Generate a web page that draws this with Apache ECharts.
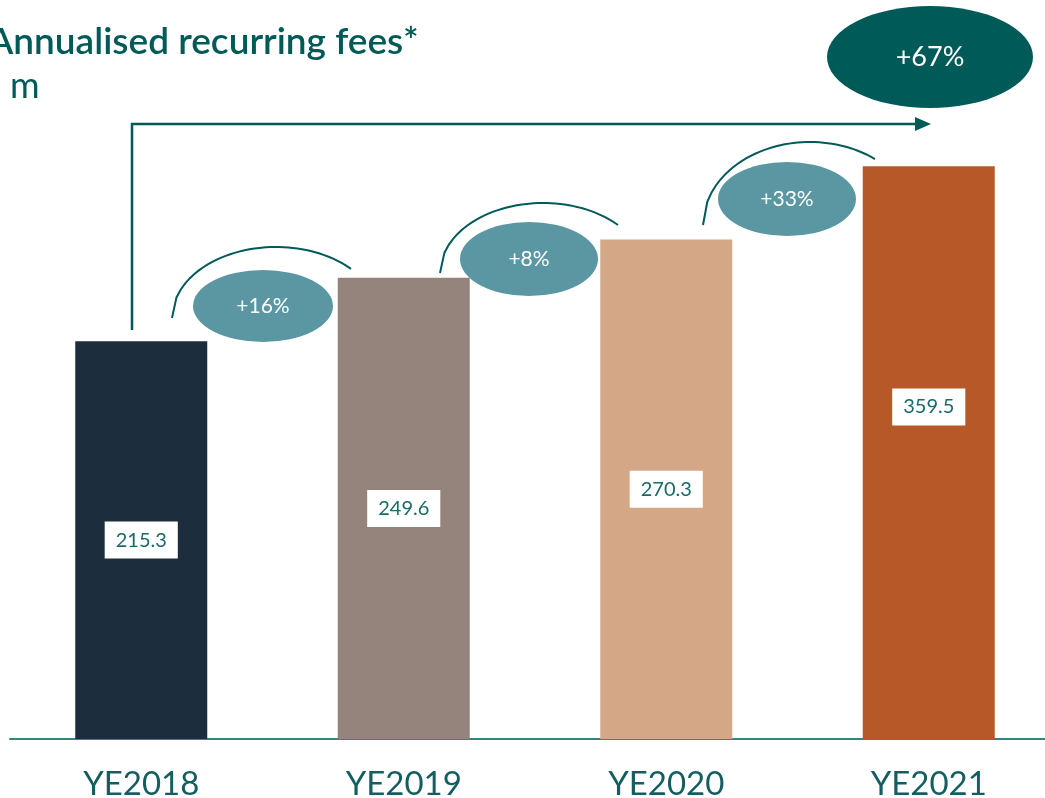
<!DOCTYPE html>
<html>
<head>
<meta charset="utf-8">
<script src="https://cdn.jsdelivr.net/npm/echarts@6/dist/echarts.min.js"></script>
<style>
  html, body { margin: 0; padding: 0; background: #fff; }
  #chart { width: 1045px; height: 798px; }
</style>
</head>
<body>
<div id="chart"></div>
<script>
const categories = ['YE2018', 'YE2019', 'YE2020', 'YE2021']
const feeValues = [215.3, 249.6, 270.3, 359.5]
// the last bar is drawn shorter than its value in the source slide
const barHeights = [215.3, 249.6, 270.3, 310]
const barColors = ['#1c2e3d', '#94847b', '#d4a887', '#b65827']
const stepGrowth = ['+16%', '+8%', '+33%']
const totalGrowth = '+67%'

const teal = '#005a58'
const lightTeal = '#5b97a3'
const font = 'Lato, "Noto Sans", sans-serif'

// elliptical arc as a polyline (decoration only)
function arcPoints (cx, cy, a, b, x0, x1) {
  let pts = []
  for (let i = 0; i <= 40; i++) {
    let x = x0 + (x1 - x0) * i / 40
    let t = Math.max(0, 1 - Math.pow((x - cx) / a, 2))
    pts.push([x, cy - b * Math.sqrt(t)])
  }
  return pts
}

function bubble (cx, cy, rx, ry, color, text, size) {
  return [
    {
      type: 'circle',
      x: cx, y: cy,
      scaleY: ry / rx,
      shape: { cx: 0, cy: 0, r: rx },
      style: { fill: color },
      z: 10
    },
    {
      type: 'text',
      x: cx, y: cy,
      style: {
        text: text, fill: '#ffffff', font: size + 'px ' + font,
        textAlign: 'center', textVerticalAlign: 'middle'
      },
      z: 11
    }
  ]
}

function arc (cx, cy, a, b, x0, x1) {
  return {
    type: 'polyline',
    shape: { points: arcPoints(cx, cy, a, b, x0, x1) },
    style: { stroke: teal, lineWidth: 2, fill: null },
    z: 9
  }
}

const chart = echarts.init(document.getElementById('chart'))

chart.setOption({
  animation: false,
  grid: {
    left: 10, right: -15, top: 0, bottom: 59,
    containLabel: false,
    outerBoundsMode: 'none'
  },
  xAxis: {
    type: 'category',
    data: categories,
    axisLine: { lineStyle: { color: '#3a8385', width: 2 } },
    axisTick: { show: false },
    axisLabel: {
      color: '#135f5f',
      fontSize: 33,
      fontFamily: font,
      margin: 29
    }
  },
  yAxis: {
    type: 'value',
    min: 0,
    max: 400,
    show: false,
    splitLine: { show: false }
  },
  series: [
    {
      type: 'bar',
      barWidth: 132,
      data: barHeights.map((v, i) => ({ value: v, itemStyle: { color: barColors[i] } })),
      z: 2
    },
    {
      type: 'scatter',
      symbolSize: 1,
      itemStyle: { color: 'rgba(0,0,0,0)', opacity: 1 },
      data: feeValues.map(v => v / 2),
      label: {
        show: true,
        position: 'inside',
        formatter: p => feeValues[p.dataIndex].toFixed(1),
        backgroundColor: '#ffffff',
        padding: [9, 11, 8, 11],
        color: '#1b6a6a',
        opacity: 1,
        fontSize: 20,
        fontFamily: font
      },
      emphasis: { disabled: true },
      z: 5
    }
  ],
  graphic: [
    {
      type: 'text',
      x: -12, y: 24,
      style: {
        text: 'Annualised recurring fees*',
        fill: teal, font: '600 37px ' + font,
        textVerticalAlign: 'top'
      }
    },
    {
      type: 'text',
      x: 10, y: 68,
      style: {
        text: 'm',
        fill: teal, font: '36px ' + font,
        textVerticalAlign: 'top'
      }
    },
    {
      type: 'polyline',
      shape: { points: [[132, 330], [132, 124], [916, 124]] },
      style: { stroke: teal, lineWidth: 2.5, fill: null }
    },
    {
      type: 'polygon',
      shape: { points: [[915, 117], [931, 124], [915, 131]] },
      style: { fill: teal }
    },
    arc(276, 318, 104, 71, 172, 351),
    arc(543, 273, 103, 70, 440, 618),
    arc(810, 225, 107, 83, 703, 875),
    ...bubble(263, 306, 70, 36, lightTeal, stepGrowth[0], 21),
    ...bubble(529, 259, 69, 37, lightTeal, stepGrowth[1], 21),
    ...bubble(787, 199, 69, 37, lightTeal, stepGrowth[2], 21),
    ...bubble(930, 57, 103, 51, teal, totalGrowth, 27)
  ]
})
</script>
</body>
</html>
